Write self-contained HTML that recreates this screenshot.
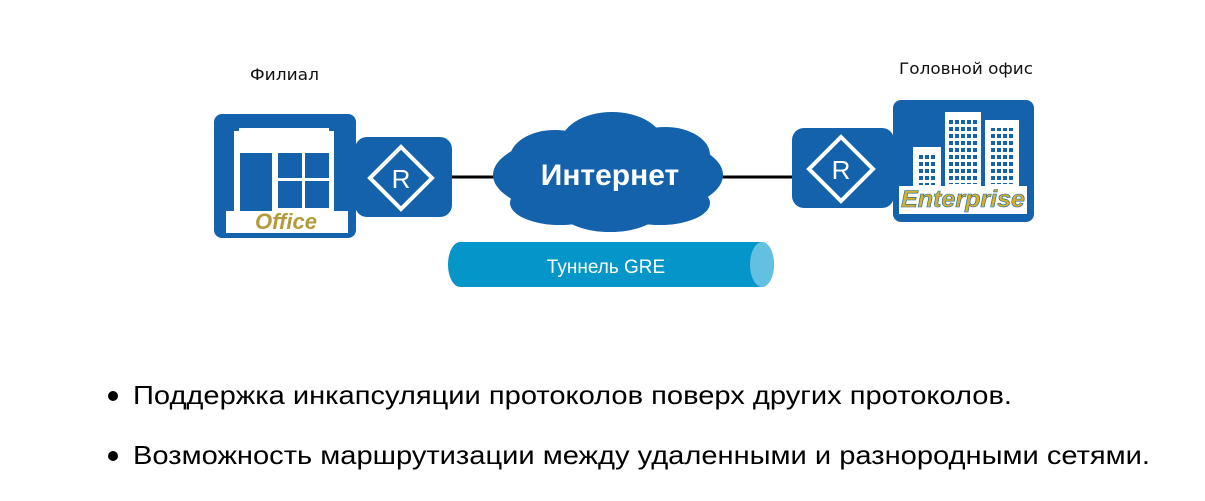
<!DOCTYPE html>
<html><head><meta charset="utf-8"><style>
html,body{margin:0;padding:0;background:#fff;}
svg{display:block;}
</style></head><body>
<svg width="1205" height="501" viewBox="0 0 1205 501" xmlns="http://www.w3.org/2000/svg" font-family="'Liberation Sans', sans-serif">
<defs>
<pattern id="win" x="0" y="0" width="6" height="7" patternUnits="userSpaceOnUse">
<rect x="1" y="1" width="4" height="4" fill="#1462ab"/>
</pattern>
</defs>
<!-- labels -->
<text x="250" y="80" font-family="'DejaVu Sans Condensed','DejaVu Sans',sans-serif" font-size="16" textLength="69" lengthAdjust="spacingAndGlyphs" fill="#111">Филиал</text>
<text x="899" y="74" font-family="'DejaVu Sans Condensed','DejaVu Sans',sans-serif" font-size="16" textLength="134" lengthAdjust="spacingAndGlyphs" fill="#111">Головной офис</text>

<!-- connecting lines -->
<line x1="450" y1="177" x2="500" y2="177" stroke="#000" stroke-width="3"/>
<line x1="720" y1="177" x2="794" y2="177" stroke="#000" stroke-width="3"/>

<!-- Office -->
<rect x="214" y="114" width="142" height="124" rx="8" fill="#1462ab"/>
<path d="M234 140 V131 H239 V128 H329 V131 H334 V229 H226 V211 H234 Z" fill="#fff"/>
<rect x="226" y="211" width="122" height="22" fill="#fff"/>
<rect x="240" y="153" width="32" height="58" fill="#1462ab"/>
<rect x="278" y="153" width="24" height="25" fill="#1462ab"/>
<rect x="305" y="153" width="24" height="25" fill="#1462ab"/>
<rect x="278" y="181" width="24" height="27" fill="#1462ab"/>
<rect x="305" y="181" width="24" height="27" fill="#1462ab"/>
<text x="286" y="229" font-size="22" font-style="italic" font-weight="bold" fill="#b49a3a" text-anchor="middle">Office</text>

<!-- Left router -->
<rect x="355" y="137" width="97" height="80" rx="12" fill="#1462ab"/>
<path d="M401 147 L432 178 L401 209 L370 178 Z" fill="none" stroke="#fff" stroke-width="4"/>
<text x="401" y="188" font-size="26" fill="#fff" text-anchor="middle">R</text>

<!-- Cloud -->
<g fill="#1462ab">
<ellipse cx="608" cy="175" rx="115" ry="44"/>
<ellipse cx="612" cy="145" rx="52" ry="33"/>
<ellipse cx="555" cy="158" rx="45" ry="28"/>
<ellipse cx="665" cy="155" rx="45" ry="28"/>
<ellipse cx="560" cy="203" rx="50" ry="22"/>
<ellipse cx="660" cy="203" rx="50" ry="22"/>
<ellipse cx="610" cy="210" rx="50" ry="22"/>
</g>
<text x="610" y="185" font-size="30" font-weight="bold" fill="#fff" text-anchor="middle">Интернет</text>

<!-- Tunnel -->
<path d="M460 242 H762 A12 22.5 0 0 1 762 287 H460 A12 22.5 0 0 1 460 242 Z" fill="#0596c9"/>
<ellipse cx="762" cy="264.5" rx="12" ry="22.5" fill="#63c0e0"/>
<text x="606" y="273" font-size="19" fill="#fff" text-anchor="middle">Туннель GRE</text>

<!-- Right router -->
<rect x="792" y="128" width="102" height="80" rx="12" fill="#1462ab"/>
<path d="M841 137 L873 169 L841 201 L809 169 Z" fill="none" stroke="#fff" stroke-width="4"/>
<text x="841" y="179" font-size="26" fill="#fff" text-anchor="middle">R</text>

<!-- Enterprise -->
<rect x="893" y="100" width="141" height="122" rx="8" fill="#1462ab"/>
<g fill="#fff">
<rect x="913" y="147" width="28" height="46"/>
<rect x="945" y="112" width="36" height="81"/>
<rect x="985" y="120" width="34" height="73"/>
<rect x="899" y="186" width="128" height="28"/>
</g>
<rect x="917" y="155" width="20" height="30" fill="url(#win)"/>
<rect x="949" y="120" width="28" height="64" fill="url(#win)"/>
<rect x="989" y="128" width="26" height="56" fill="url(#win)"/>
<text x="963" y="207" font-size="24" font-style="italic" font-weight="bold" fill="#d6b22a" stroke="#1462ab" stroke-width="0.6" text-anchor="middle" textLength="124" lengthAdjust="spacingAndGlyphs">Enterprise</text>

<!-- bullets -->
<circle cx="113" cy="396" r="5" fill="#000"/>
<circle cx="113" cy="456" r="5" fill="#000"/>
<text x="133" y="404" font-size="26" fill="#000" textLength="879" lengthAdjust="spacingAndGlyphs">Поддержка инкапсуляции протоколов поверх других протоколов.</text>
<text x="133" y="464" font-size="26" fill="#000" textLength="1017" lengthAdjust="spacingAndGlyphs">Возможность маршрутизации между удаленными и разнородными сетями.</text>
</svg>
</body></html>
